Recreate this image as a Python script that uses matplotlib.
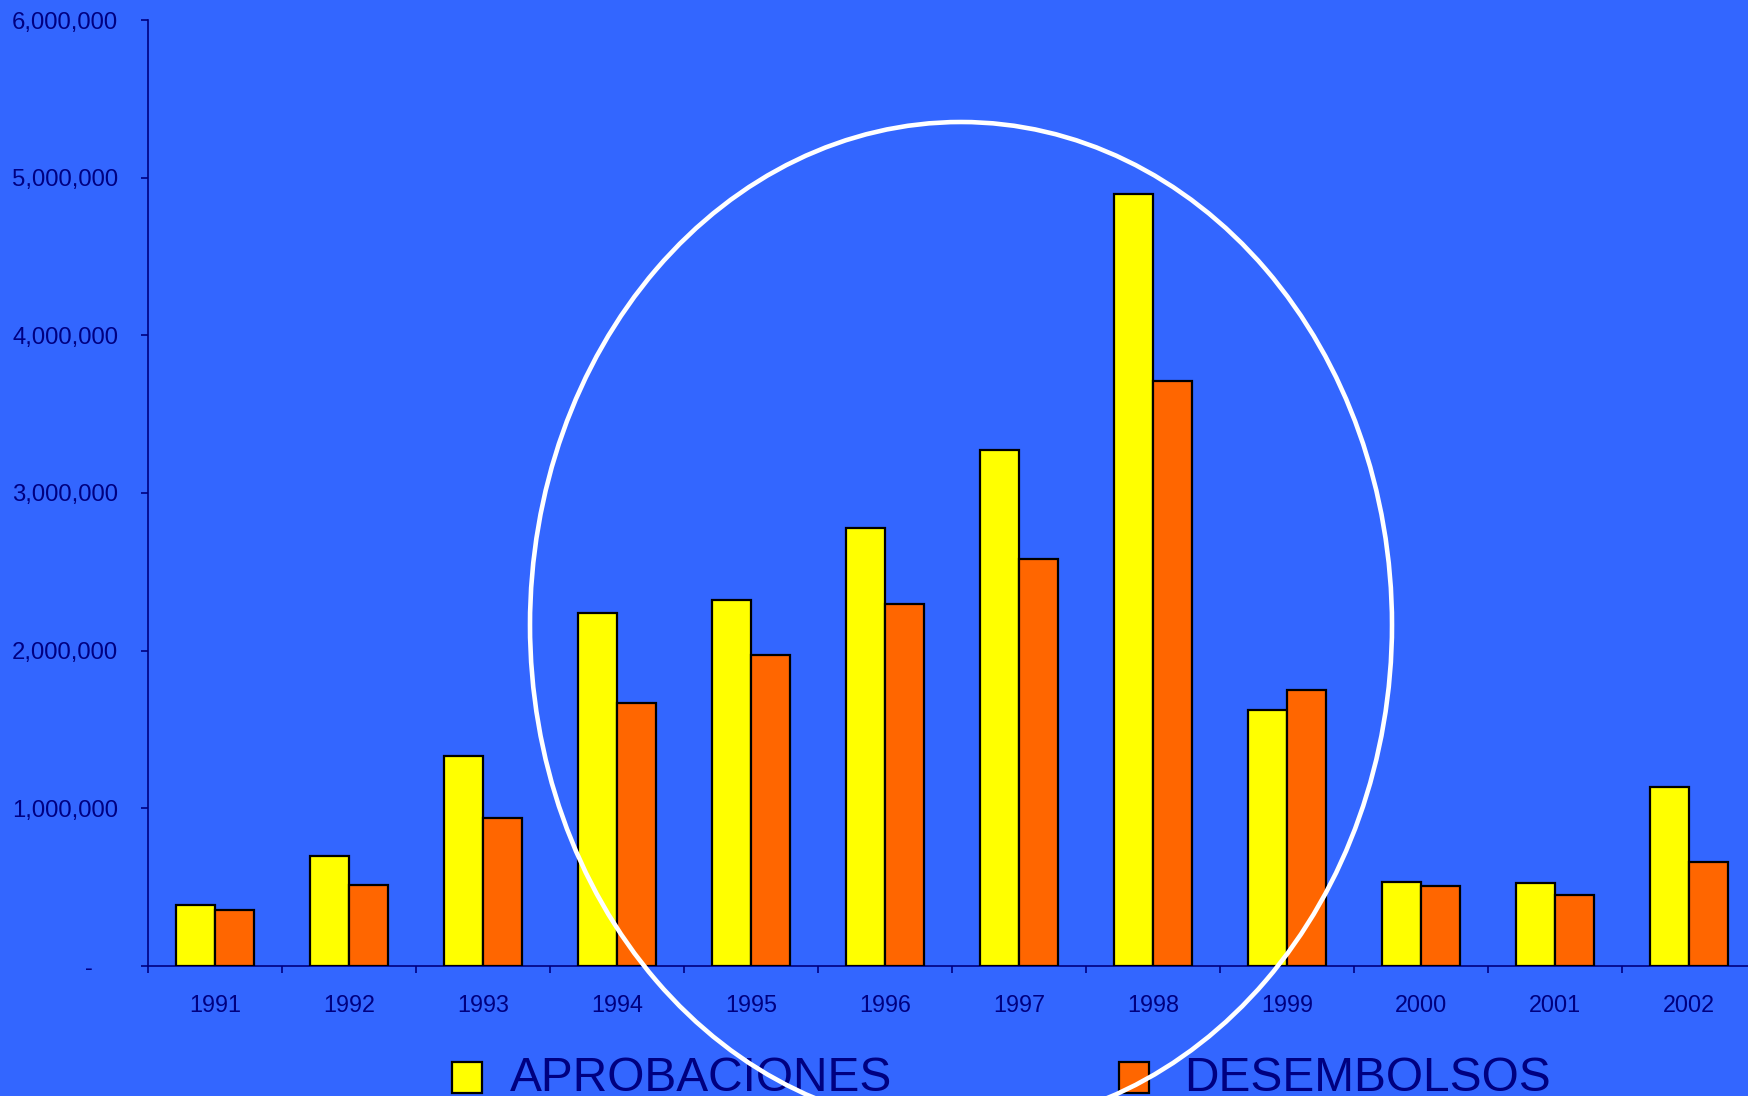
import matplotlib
matplotlib.use("Agg")
import matplotlib.pyplot as plt
from matplotlib.patches import Ellipse, Rectangle
from matplotlib.ticker import FuncFormatter, FixedLocator
import numpy as np

years = ["1991", "1992", "1993", "1994", "1995", "1996", "1997", "1998", "1999", "2000", "2001", "2002"]
aprobaciones = [390000, 700000, 1335000, 2240000, 2320000, 2780000, 3270000, 4895000, 1625000, 534000, 527000, 1136000]
desembolsos = [358000, 513000, 938000, 1668000, 1970000, 2295000, 2580000, 3710000, 1752000, 506000, 450000, 662000]
series_names = ["APROBACIONES", "DESEMBOLSOS"]

BG = "#3366FF"
NAVY = "#000080"
YELLOW = "#FFFF00"
ORANGE = "#FF6600"

W, H = 1748, 1096
plt.rcParams["font.family"] = ["Liberation Sans", "DejaVu Sans"]
fig = plt.figure(figsize=(W / 100, H / 100), dpi=100, facecolor=BG)

ax_left, ax_bottom_px, ax_top_px = 148, 966, 20
ax_right = 148 + 12 * 134.0
ax = fig.add_axes([ax_left / W, (H - ax_bottom_px) / H, (ax_right - ax_left) / W, (ax_bottom_px - ax_top_px) / H])
ax.set_facecolor(BG)

x = np.arange(len(years)) + 0.5
bw = 0.29
ax.bar(x - bw / 2, aprobaciones, width=bw, color=YELLOW, edgecolor="black", linewidth=1.6, zorder=3)
ax.bar(x + bw / 2, desembolsos, width=bw, color=ORANGE, edgecolor="black", linewidth=1.6, zorder=3)

ax.set_xlim(0, len(years))
ax.set_ylim(0, 6000000)
for s in ["top", "right"]:
    ax.spines[s].set_visible(False)
for s in ["left", "bottom"]:
    ax.spines[s].set_color(NAVY)
    ax.spines[s].set_linewidth(1.2)

# x ticks at category boundaries, labels at centers
ax.xaxis.set_major_locator(FixedLocator(np.arange(0, len(years) + 1)))
ax.xaxis.set_major_formatter(FuncFormatter(lambda v, p: ""))
ax.xaxis.set_minor_locator(FixedLocator(x))
ax.set_xticklabels(years, minor=True)
ax.tick_params(axis="x", which="major", direction="out", length=5, width=1.2, color=NAVY)
ax.tick_params(axis="x", which="minor", length=0, pad=20, labelsize=16.8, labelcolor=NAVY)

ax.set_yticks(np.arange(0, 6000001, 1000000))
ax.yaxis.set_major_formatter(FuncFormatter(lambda v, p: "" if v == 0 else f"{int(v):,}"))
ax.tick_params(axis="y", direction="out", length=5, width=1.2, color=NAVY, pad=16.5,
               labelsize=17.2, labelcolor=NAVY)
ax.annotate("-", xy=(0, 0), xycoords=("axes fraction", "data"), xytext=(-59 * 0.72, -2),
            textcoords="offset points", ha="center", va="center", fontsize=17, color=NAVY,
            annotation_clip=False)

# legend
def fx(px):
    return px / W

def fy(py):
    return (H - py) / H

for (sx, tx, col, name) in [(452, 510, YELLOW, series_names[0]), (1119, 1184, ORANGE, series_names[1])]:
    fig.add_artist(Rectangle((fx(sx), fy(1093)), 30 / W, 31 / H, transform=fig.transFigure,
                             facecolor=col, edgecolor="black", linewidth=1.6, zorder=5))
    fig.text(fx(tx), fy(1091), name, fontsize=34.5, color=NAVY, ha="left", va="baseline", zorder=5)

# highlight ellipse
fig.add_artist(Ellipse((fx(961), fy(625)), 862 / W, 1006 / H, transform=fig.transFigure,
                       fill=False, edgecolor="white", linewidth=3.3, zorder=20))

fig.savefig("out.png", dpi=100, facecolor=BG)
